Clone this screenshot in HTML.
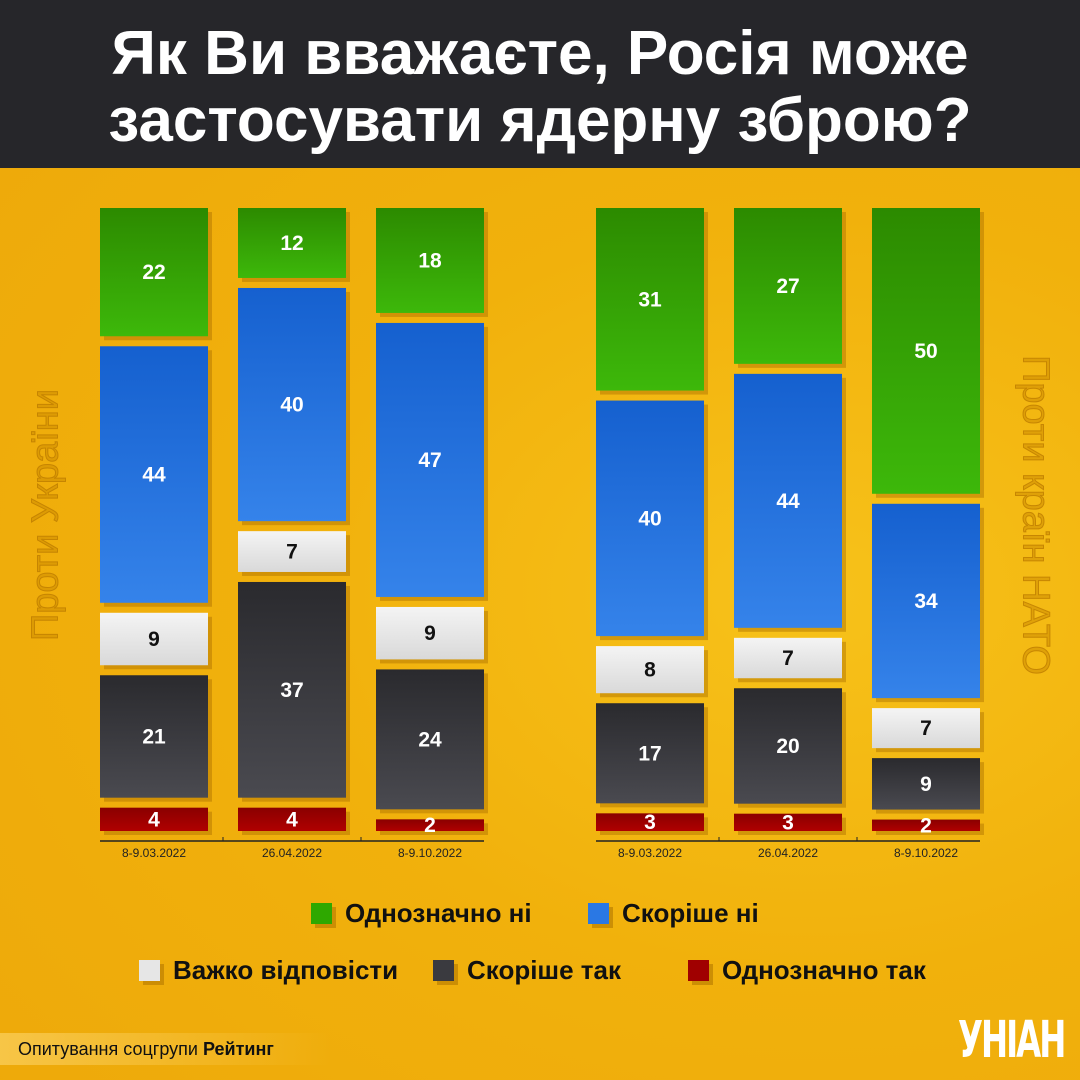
<!DOCTYPE html>
<html><head><meta charset="utf-8">
<style>
html,body{margin:0;padding:0}
body{width:1080px;height:1080px;overflow:hidden;position:relative;font-family:"Liberation Sans",sans-serif;
background:radial-gradient(ellipse at 75% 55%,#f7c21a 0%,#f1b10c 45%,#eda80a 100%)}
#hdr{position:absolute;left:0;top:0;width:1080px;height:168px;background:#26262a;color:#fff;text-align:center;
font-weight:bold;font-size:62px;line-height:67px;padding-top:20px;box-sizing:border-box;white-space:nowrap}
.side{position:absolute;font-size:38px;white-space:nowrap;-webkit-text-stroke:1px rgba(190,125,0,.8);color:rgba(205,140,0,.55)}
#leg div{position:absolute;font-weight:bold;font-size:26px;color:#111}
.sq{position:absolute;width:21px;height:21px;box-shadow:4px 4px 0 rgba(180,120,0,.6)}
#foot{position:absolute;left:0;top:1033px;width:330px;height:32px;background:linear-gradient(90deg,rgba(255,220,120,.55),rgba(255,220,120,.0));font-size:18px;line-height:32px;padding-left:18px;box-sizing:border-box;color:#111}
#logo{position:absolute;left:958px;top:1012px;width:104px;color:#fff;font-weight:bold;font-size:36px;letter-spacing:-2px;font-family:"DejaVu Sans Condensed","Liberation Sans",sans-serif;transform:scaleY(1.4);transform-origin:top left;white-space:nowrap}
</style></head><body>
<div id="hdr">Як Ви вважаєте, Росія може<br>застосувати ядерну зброю?</div>
<div class="side" style="left:46px;top:515px;transform:translate(-50%,-50%) rotate(-90deg)">Проти України</div>
<div class="side" style="left:1035px;top:515px;transform:translate(-50%,-50%) rotate(90deg)">Проти країн НАТО</div>
<svg id="chart" width="1080" height="1080" style="position:absolute;left:0;top:0">
<defs>
<linearGradient id="g0" x1="0" y1="0" x2="0" y2="1"><stop offset="0" stop-color="#2c8a00"/><stop offset="1" stop-color="#3db80a"/></linearGradient>
<linearGradient id="g1" x1="0" y1="0" x2="0" y2="1"><stop offset="0" stop-color="#1560cf"/><stop offset="1" stop-color="#3583ea"/></linearGradient>
<linearGradient id="g2" x1="0" y1="0" x2="0" y2="1"><stop offset="0" stop-color="#f4f4f4"/><stop offset="1" stop-color="#d9d9d9"/></linearGradient>
<linearGradient id="g3" x1="0" y1="0" x2="0" y2="1"><stop offset="0" stop-color="#2a2a2e"/><stop offset="1" stop-color="#4a4a50"/></linearGradient>
<linearGradient id="g4" x1="0" y1="0" x2="0" y2="1"><stop offset="0" stop-color="#8a0000"/><stop offset="1" stop-color="#b00000"/></linearGradient>
</defs>
</svg>
<div id="leg">
<span class="sq" style="left:311px;top:903px;background:#2ea800"></span>
<div style="left:345px;top:898px">Однозначно ні</div>
<span class="sq" style="left:588px;top:903px;background:#2a78e4"></span>
<div style="left:622px;top:898px">Скоріше ні</div>
<span class="sq" style="left:139px;top:960px;background:#e6e6e6"></span>
<div style="left:173px;top:955px">Важко відповісти</div>
<span class="sq" style="left:433px;top:960px;background:#3a3a3f"></span>
<div style="left:467px;top:955px">Скоріше так</div>
<span class="sq" style="left:688px;top:960px;background:#a00000"></span>
<div style="left:722px;top:955px">Однозначно так</div>
</div>
<div id="foot">Опитування соцгрупи <b>Рейтинг</b></div>
<div id="logo">УНІАН</div>
<script>
const dates = ["8-9.03.2022","26.04.2022","8-9.10.2022"];
const ukraine = [[22,44,9,21,4],[12,40,7,37,4],[18,47,9,24,2]];
const nato = [[31,40,8,17,3],[27,44,7,20,3],[50,34,7,9,2]];
const svg = document.getElementById('chart');
const NS = 'http://www.w3.org/2000/svg';
const TOP = 208, BASE = 831, GAP = 10, BW = 108;
const names = ['definitely-no','rather-no','hard-to-say','rather-yes','definitely-yes'];
function mk(t, a){const e=document.createElementNS(NS,t);for(const k in a)e.setAttribute(k,a[k]);svg.appendChild(e);return e;}
function group(data, x0, gname){
  const axis = mk('line',{x1:x0,x2:x0+384,y1:841,y2:841,stroke:'#222','stroke-width':1.5});
  
  
  data.forEach((vals,i)=>{
    const x = x0 + i*138;
    const sum = vals.reduce((a,b)=>a+b,0);
    const k = (BASE-TOP-GAP*(vals.length-1))/sum;
    let y = TOP;
    vals.forEach((v,j)=>{
      const h = v*k;
      const sh = mk('rect',{x:x+4,y:y+4,width:BW,height:h,fill:'rgba(170,110,0,0.45)'});
      
      
      const r = mk('rect',{x:x,y:y,width:BW,height:h,fill:'url(#g'+j+')'});
      
      
      const t = mk('text',{x:x+BW/2,y:y+h/2+7,'text-anchor':'middle','font-size':21,'font-weight':'bold','font-family':'Liberation Sans, sans-serif',fill:j==2?'#111':'#fff'});
      t.textContent = v;
      
      
      y += h + GAP;
    });
    const lt = mk('text',{x:x+BW/2,y:857,'text-anchor':'middle','font-size':12,'font-family':'Liberation Sans, sans-serif',fill:'#222'});
    lt.textContent = dates[i];
    
    
    if(i>0){const tk = mk('line',{x1:x-15,x2:x-15,y1:837,y2:841,stroke:'#222','stroke-width':1});
      
      }
  });
}
group(ukraine, 100, 'ukraine');
group(nato, 596, 'nato');
</script>
</body></html>
